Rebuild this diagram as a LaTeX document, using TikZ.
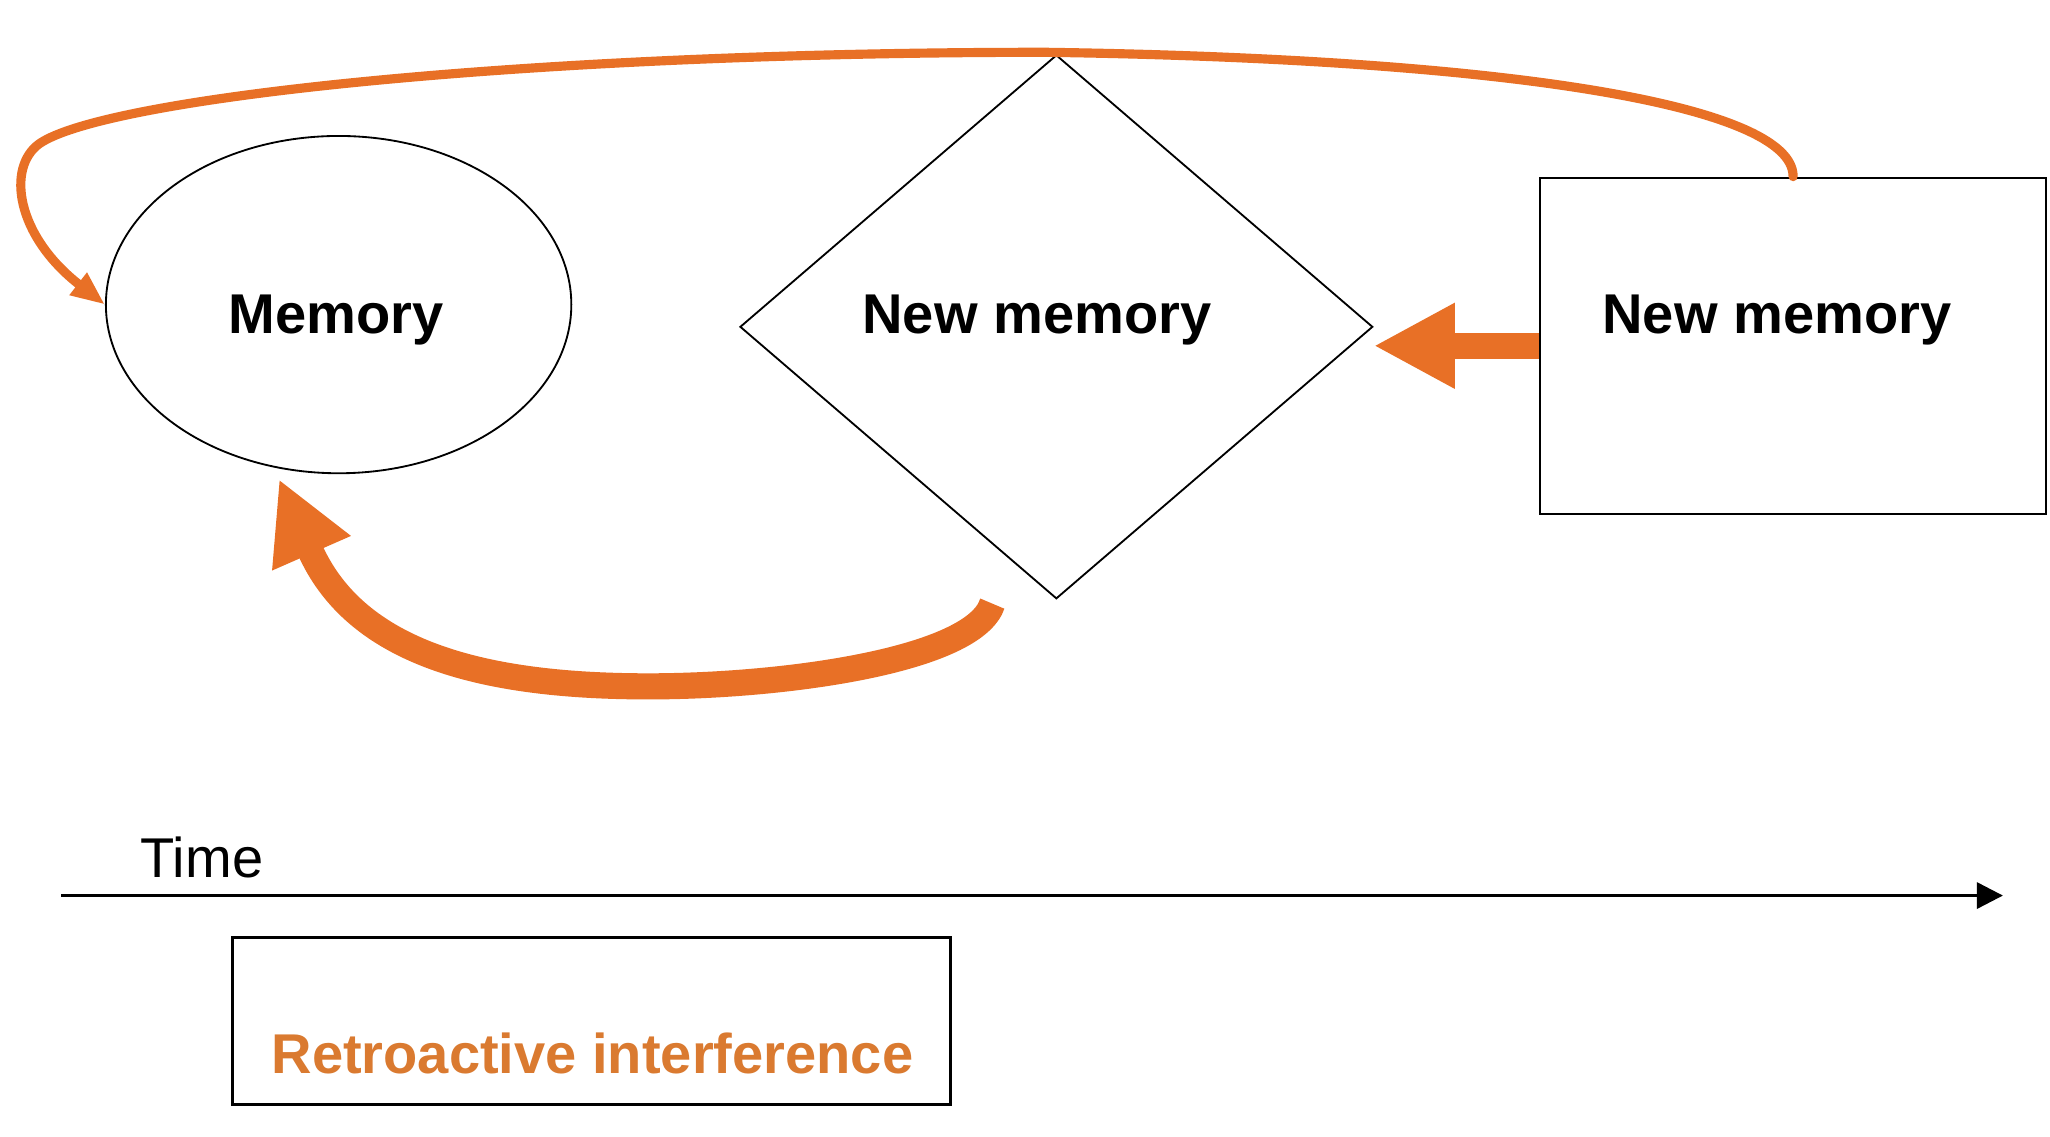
\documentclass[tikz,border=0pt]{standalone}
\usepackage{fontspec}
\setmainfont{Liberation Sans}
\usetikzlibrary{shapes.geometric,arrows.meta}
\definecolor{arrOrange}{RGB}{232,112,38}
\definecolor{txtOrange}{RGB}{218,122,48}
\begin{document}
\begin{tikzpicture}[x=0.1mm,y=-0.1mm,
  outline/.style={draw=black, line width=0.4pt, inner sep=0pt},
  lbl/.style={font=\fontsize{12.2pt}{14pt}\selectfont\bfseries, anchor=base west, inner sep=0pt},
  plainlbl/.style={font=\fontsize{12.2pt}{14pt}\selectfont, anchor=base west, inner sep=0pt},
  thickarrow/.style={draw=arrOrange, line width=2mm, -{Triangle[length=6.2mm,width=6.1mm]}},
  thinarrow/.style={draw=arrOrange, line width=0.7mm, line cap=round, -{Triangle[length=2.6mm,width=2mm]}}]
\useasboundingbox (0,0) rectangle (1568,869);
\fill[white] (0,0) rectangle (1568,869);

% shapes
\node[outline, ellipse, minimum width=35.6mm, minimum height=25.8mm] (mem) at (259,233) {};
\node[outline, diamond, minimum width=48.4mm, minimum height=41.6mm] (dia) at (808,250) {};
\node[outline, rectangle, line width=0.5pt, minimum width=38.7mm, minimum height=25.7mm] (rect) at (1371.5,264.5) {};

% labels
\node[lbl] (tmem) at (174,255) {Memory};
\node[lbl] (tdia) at (659,255) {New memory};
\node[lbl] (trect) at (1225,255) {New memory};

% thick horizontal arrow
\draw[thickarrow] (rect.west) -- (rect.west -| dia.east);

% bottom curved arrow
\coordinate (bstart) at ([xshift=-4.9mm,yshift=-0.3mm]dia.south);
\coordinate (btip) at ([yshift=-0.8mm]mem.250);
\draw[thickarrow] (bstart) .. controls (745,505) and (600,525) .. (496,525)
  .. controls (370,525) and (272,500) .. (btip);

% top thin arrow
\draw[thinarrow] (rect.north) .. controls (1372,80) and (1150,45) .. (800,40)
  .. controls (400,40) and (80,75) .. (30,110)
  .. controls (5,128) and (12,180) .. (mem.west);

% time axis
\node[plainlbl] (ttime) at (107,671) {Time};
\coordinate (t0) at (47,685);
\coordinate (t1) at (1532,685);
\draw[line width=0.7pt, -{Triangle[length=2mm,width=2mm]}] (t0) -- (t1);

% box
\node[draw=black, line width=0.7pt, minimum width=54.9mm, minimum height=12.8mm, inner sep=0pt] (box) at (452.5,781) {};
\node[lbl, text=txtOrange] (tret) at (207,821) {Retroactive interference};
\end{tikzpicture}
\end{document}
